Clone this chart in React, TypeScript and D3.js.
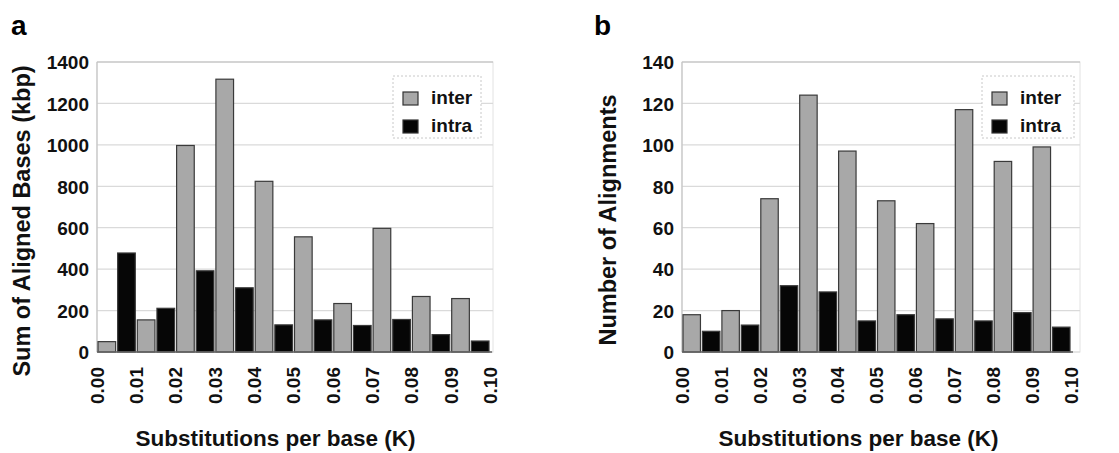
import React from 'react'
import * as d3 from 'd3'

const BINS = ['0.00', '0.01', '0.02', '0.03', '0.04', '0.05', '0.06', '0.07', '0.08', '0.09']
const X_TICKS = ['0.00', '0.01', '0.02', '0.03', '0.04', '0.05', '0.06', '0.07', '0.08', '0.09', '0.10']
const SERIES = ['inter', 'intra']

// panel a: sum of aligned bases (kbp)
const BASES_INTER = [50, 155, 997, 1317, 824, 556, 234, 597, 268, 258]
const BASES_INTRA = [478, 211, 392, 310, 131, 155, 128, 157, 84, 53]
const BASES_TICKS = [0, 200, 400, 600, 800, 1000, 1200, 1400]

// panel b: number of alignments
const ALIGN_INTER = [18, 20, 74, 124, 97, 73, 62, 117, 92, 99]
const ALIGN_INTRA = [10, 13, 32, 29, 15, 18, 16, 15, 19, 12]
const ALIGN_TICKS = [0, 20, 40, 60, 80, 100, 120, 140]

const FILL = { inter: '#a8a8a8', intra: '#060606' }
const FONT = '"Liberation Sans", Arial, Helvetica, sans-serif'

type PanelProps = {
  letter: string
  letterX: number
  left: number
  right: number
  gridRight: number
  yMax: number
  yTicks: number[]
  inter: number[]
  intra: number[]
  yTitle: string
  yTitleX: number
  yTitleY: number
  legendX: number
  legendW: number
}

const TOP = 62
const BOTTOM = 352

function Panel(p: PanelProps) {
  const x = d3.scaleBand<string>().domain(BINS).range([p.left, p.right]).padding(0)
  const sub = d3.scaleBand<string>().domain(SERIES).range([0, x.bandwidth()]).padding(0)
  const xt = d3.scaleLinear().domain([0, 0.1]).range([p.left, p.right])
  const y = d3.scaleLinear().domain([0, p.yMax]).range([BOTTOM, TOP])

  const rows = BINS.map((b, i) => ({ bin: b, inter: p.inter[i], intra: p.intra[i] }))

  return (
    <g>
      <text x={p.letterX} y={35} fontSize={28} fontWeight="bold" fontFamily={FONT}>
        {p.letter}
      </text>

      {/* plot frame + grid */}
      <rect x={p.left} y={TOP} width={p.gridRight - p.left} height={BOTTOM - TOP}
        fill="none" stroke="#e2e2e2" strokeWidth={1} />
      {p.yTicks.map((t) => (
        <line key={t} x1={p.left} x2={p.gridRight} y1={y(t)} y2={y(t)}
          stroke={t === p.yMax ? '#b8b8b8' : '#dadada'} strokeWidth={1.2} />
      ))}
      <line x1={p.left} x2={p.left} y1={TOP} y2={BOTTOM} stroke="#c4c4c4" strokeWidth={1.2} />

      {/* bars */}
      {rows.map((r) =>
        SERIES.map((s) => {
          const v = (r as any)[s] as number
          return (
            <rect key={r.bin + s}
              x={(x(r.bin) ?? 0) + (sub(s) ?? 0) + 1}
              y={y(v)}
              width={sub.bandwidth() - 2}
              height={BOTTOM - y(v)}
              fill={(FILL as any)[s]}
              stroke="#3a3a3a" strokeWidth={1.2} />
          )
        })
      )}
      <line x1={p.left} x2={p.right + 2} y1={BOTTOM} y2={BOTTOM} stroke="#666" strokeWidth={1.5} />

      {/* y tick labels */}
      {p.yTicks.map((t) => (
        <text key={t} x={p.left - 8} y={y(t)} dy="0.38em" textAnchor="end"
          fontSize={19} fontWeight="bold" fontFamily={FONT} fill="#111">
          {t}
        </text>
      ))}

      {/* x tick labels, rotated */}
      {X_TICKS.map((t) => (
        <text key={t} transform={`translate(${xt(Number(t))},${BOTTOM + 15}) rotate(-90)`}
          dy="0.36em" textAnchor="end" fontSize={19} fontWeight="bold" fontFamily={FONT} fill="#111">
          {t}
        </text>
      ))}

      <text x={(p.left + p.right) / 2 - 18} y={446} textAnchor="middle"
        fontSize={22.5} fontWeight="bold" fontFamily={FONT} fill="#111">
        Substitutions per base (K)
      </text>
      <text transform={`translate(${p.yTitleX},${p.yTitleY}) rotate(-90)`}
        textAnchor="middle" dy="0.35em" fontSize={23.5} fontWeight="bold" fontFamily={FONT} fill="#111">
        {p.yTitle}
      </text>

      {/* legend */}
      <g transform={`translate(${p.legendX},76)`}>
        <rect x={0} y={0} width={p.legendW} height={62} fill="#fff"
          stroke="#c8c8c8" strokeDasharray="2,2" strokeWidth={1} />
        {SERIES.map((s, i) => (
          <g key={s} transform={`translate(10,${16 + i * 28})`}>
            <rect x={0} y={0} width={15} height={13} fill={(FILL as any)[s]} stroke="#333" strokeWidth={1.2} />
            <text x={28} y={12} fontSize={19} fontWeight="bold" fontFamily={FONT} fill="#111">{s}</text>
          </g>
        ))}
      </g>
    </g>
  )
}

export default function App() {
  return (
    <svg width={1119} height={453} style={{ position: 'absolute', left: 0, top: 0, background: '#fff' }}>
      <Panel letter="a" letterX={11} left={97} right={490} gridRight={493} yMax={1400}
        yTicks={BASES_TICKS} inter={BASES_INTER} intra={BASES_INTRA}
        yTitle="Sum of Aligned Bases (kbp)" yTitleX={22} yTitleY={221} legendX={393} legendW={88} />
      <Panel letter="b" letterX={594} left={682} right={1071} gridRight={1080} yMax={140}
        yTicks={ALIGN_TICKS} inter={ALIGN_INTER} intra={ALIGN_INTRA}
        yTitle="Number of Alignments" yTitleX={608} yTitleY={220} legendX={982} legendW={92} />
    </svg>
  )
}
